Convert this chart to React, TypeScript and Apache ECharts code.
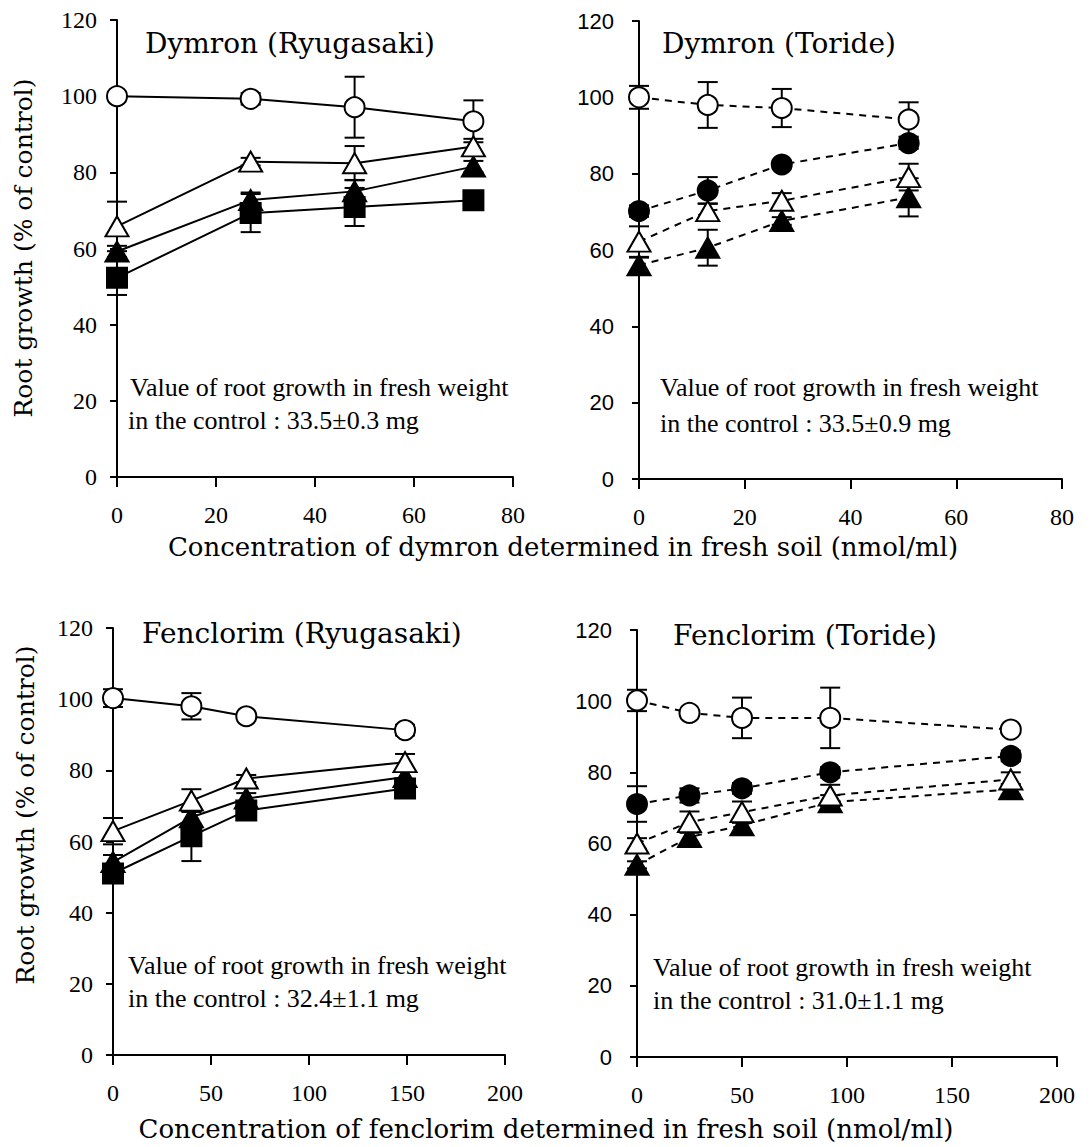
import React, { useEffect, useRef } from "react";
import * as echarts from "echarts";

// ---------- DATA ----------
// Panel 1: Dymron (Ryugasaki)
const P1_X = [0, 27, 48, 72];
const P1_OPEN_CIRCLE = [100, 99.3, 97.1, 93.4];
const P1_OPEN_CIRCLE_ERR = [0.8, 1.5, 8, 5.5];
const P1_OPEN_TRI = [65.8, 82.8, 82.4, 86.8];
const P1_OPEN_TRI_ERR = [6.5, 1, 4.5, 2];
const P1_FILL_TRI = [59.2, 72.7, 75.0, 81.5];
const P1_FILL_TRI_ERR = [1.5, 2, 3, 1.5];
const P1_FILL_SQ = [52.3, 69.3, 70.9, 72.7];
const P1_FILL_SQ_ERR = [4.5, 5, 5, 1];

// Panel 2: Dymron (Toride)
const P2_X = [0, 13, 27, 51];
const P2_OPEN_CIRCLE = [100, 98, 97.2, 94.2];
const P2_OPEN_CIRCLE_ERR = [3, 6, 5, 4.5];
const P2_FILL_CIRCLE = [70.2, 75.6, 82.4, 88];
const P2_FILL_CIRCLE_ERR = [1.5, 3.5, 1, 1.5];
const P2_OPEN_TRI = [62.2, 70.2, 72.9, 79.1];
const P2_OPEN_TRI_ERR = [4, 2, 2, 3.5];
const P2_FILL_TRI = [56, 60.6, 67.6, 73.8];
const P2_FILL_TRI_ERR = [2, 4.7, 1, 5];

// Panel 3: Fenclorim (Ryugasaki)
const P3_X = [0, 40, 68, 149];
const P3_OPEN_CIRCLE = [100.3, 98, 95.2, 91.3];
const P3_OPEN_CIRCLE_ERR = [2.5, 3.7, 0.8, 1.5];
const P3_OPEN_TRI = [62.9, 71.5, 77.7, 82.3];
const P3_OPEN_TRI_ERR = [3.7, 3.2, 1, 2.3];
const P3_FILL_TRI = [54.2, 66.8, 72.1, 78.1];
const P3_FILL_TRI_ERR = [2, 2, 1.5, 1.5];
const P3_FILL_SQ = [51, 61.5, 68.7, 74.9];
const P3_FILL_SQ_ERR = [2.5, 7, 1.5, 1.5];

// Panel 4: Fenclorim (Toride)
const P4_X = [0, 25, 50, 92, 178];
const P4_OPEN_CIRCLE = [100.2, 96.7, 95.3, 95.3, 92];
const P4_OPEN_CIRCLE_ERR = [3, 0.8, 5.7, 8.5, 1];
const P4_FILL_CIRCLE = [71.1, 73.5, 75.5, 80, 84.6];
const P4_FILL_CIRCLE_ERR = [5, 2, 1.5, 1.5, 1.5];
const P4_OPEN_TRI = [60, 66, 68.8, 73.5, 78];
const P4_OPEN_TRI_ERR = [1.5, 3, 3, 3, 2];
const P4_FILL_TRI = [54, 61.8, 65.1, 71.6, 75.2];
const P4_FILL_TRI_ERR = [1, 2, 2, 2, 1.5];

const Y_MIN = 0;
const Y_MAX = 120;
const Y_STEP = 20;
const X_MAX_DYMRON = 80;
const X_STEP_DYMRON = 20;
const X_MAX_FENCLORIM = 200;
const X_STEP_FENCLORIM = 50;

const TITLES = ["Dymron (Ryugasaki)", "Dymron (Toride)", "Fenclorim (Ryugasaki)", "Fenclorim (Toride)"];
const NOTE_LINE1 = "Value of root growth in fresh weight";
const NOTE_LINE2 = [
  "in the control : 33.5\u00b10.3 mg",
  "in the control : 33.5\u00b10.9 mg",
  "in the control : 32.4\u00b11.1 mg",
  "in the control : 31.0\u00b11.1 mg",
];
const Y_TITLE = "Root growth (% of control)";
const X_TITLE_TOP = "Concentration of dymron determined in fresh soil (nmol/ml)";
const X_TITLE_BOTTOM = "Concentration of fenclorim determined in fresh soil (nmol/ml)";

// ---------- STYLE ----------
const SERIF = '"Liberation Serif", "Times New Roman", serif';
const WIDE_SERIF = '"DejaVu Serif", serif';
const SANS = '"Liberation Sans", Arial, sans-serif';

type Marker = "openCircle" | "fillCircle" | "openTri" | "fillTri" | "fillSq";

function markerSpec(m: Marker) {
  switch (m) {
    case "openCircle":
      return { symbol: "circle", size: 20, fill: "#ffffff" };
    case "fillCircle":
      return { symbol: "circle", size: 20, fill: "#000000" };
    case "openTri":
      return { symbol: "triangle", size: [23, 20], fill: "#ffffff" };
    case "fillTri":
      return { symbol: "triangle", size: [23, 20], fill: "#000000" };
    default:
      return { symbol: "rect", size: 20, fill: "#000000" };
  }
}

function lineSeries(idx: number, xs: number[], ys: number[], m: Marker, dashed: boolean, z: number) {
  const s = markerSpec(m);
  return {
    type: "line",
    xAxisIndex: idx,
    yAxisIndex: idx,
    data: xs.map((x, i) => [x, ys[i]]),
    symbol: s.symbol,
    symbolSize: s.size,
    showAllSymbol: true,
    clip: false,
    z,
    lineStyle: { color: "#000", width: 2, type: dashed ? [7, 6] : "solid" },
    itemStyle: { color: s.fill, borderColor: "#000", borderWidth: 2 },
    emphasis: { disabled: true },
  };
}

function errSeries(idx: number, xs: number[], ys: number[], err: number[]) {
  return {
    type: "custom",
    xAxisIndex: idx,
    yAxisIndex: idx,
    z: 1,
    silent: true,
    data: xs.map((x, i) => [x, ys[i] - err[i], ys[i] + err[i]]),
    encode: { x: 0, y: [1, 2] },
    renderItem: (_p: any, api: any) => {
      const x = api.value(0);
      const top = api.coord([x, api.value(2)]);
      const bot = api.coord([x, api.value(1)]);
      const w = 10;
      const st = { stroke: "#000", lineWidth: 2 };
      return {
        type: "group",
        children: [
          { type: "line", shape: { x1: top[0], y1: top[1], x2: bot[0], y2: bot[1] }, style: st },
          { type: "line", shape: { x1: top[0] - w, y1: top[1], x2: top[0] + w, y2: top[1] }, style: st },
          { type: "line", shape: { x1: bot[0] - w, y1: bot[1], x2: bot[0] + w, y2: bot[1] }, style: st },
        ],
      };
    },
  };
}

function xAxisOf(idx: number, max: number, step: number) {
  return {
    type: "value",
    gridIndex: idx,
    min: 0,
    max,
    interval: step,
    axisLine: { show: true, onZero: false, lineStyle: { color: "#000", width: 2 } },
    axisTick: { show: true, inside: false, length: 10, lineStyle: { color: "#000", width: 2 } },
    splitLine: { show: false },
    axisLabel: { margin: 26, color: "#000", fontSize: 24, fontFamily: SERIF },
  };
}

function yAxisOf(idx: number, right: boolean) {
  return {
    type: "value",
    gridIndex: idx,
    min: Y_MIN,
    max: Y_MAX,
    interval: Y_STEP,
    axisLine: { show: true, onZero: false, lineStyle: { color: "#000", width: 2 } },
    axisTick: { show: true, inside: false, length: 7, lineStyle: { color: "#000", width: 2 } },
    splitLine: { show: false },
    axisLabel: {
      margin: right ? 25 : 20,
      color: "#000",
      fontSize: right ? 22 : 24,
      fontFamily: right ? SANS : SERIF,
    },
  };
}

function txt(text: string, x: number, y: number, font: string, extra: any = {}) {
  return {
    type: "text",
    x,
    y,
    silent: true,
    ...extra,
    style: {
      text,
      font,
      fill: "#000",
      textAlign: extra.align || "left",
      textVerticalAlign: "middle",
      align: extra.align || "left",
      verticalAlign: "middle",
    },
  };
}

export default function App() {
  const ref = useRef<HTMLDivElement>(null);

  useEffect(() => {
    if (!ref.current) return;
    const chart = echarts.init(ref.current, undefined, { renderer: "svg" });

    const grids = [
      { left: 117, top: 20, width: 396, height: 457 },
      { left: 639, top: 21, width: 423, height: 458 },
      { left: 113, top: 628, width: 392, height: 427 },
      { left: 637, top: 630, width: 420, height: 427 },
    ];

    const series: any[] = [
      // panel 1
      errSeries(0, P1_X, P1_OPEN_CIRCLE, P1_OPEN_CIRCLE_ERR),
      errSeries(0, P1_X, P1_OPEN_TRI, P1_OPEN_TRI_ERR),
      errSeries(0, P1_X, P1_FILL_TRI, P1_FILL_TRI_ERR),
      errSeries(0, P1_X, P1_FILL_SQ, P1_FILL_SQ_ERR),
      lineSeries(0, P1_X, P1_FILL_SQ, "fillSq", false, 2),
      lineSeries(0, P1_X, P1_FILL_TRI, "fillTri", false, 3),
      lineSeries(0, P1_X, P1_OPEN_TRI, "openTri", false, 4),
      lineSeries(0, P1_X, P1_OPEN_CIRCLE, "openCircle", false, 5),
      // panel 2
      errSeries(1, P2_X, P2_OPEN_CIRCLE, P2_OPEN_CIRCLE_ERR),
      errSeries(1, P2_X, P2_FILL_CIRCLE, P2_FILL_CIRCLE_ERR),
      errSeries(1, P2_X, P2_OPEN_TRI, P2_OPEN_TRI_ERR),
      errSeries(1, P2_X, P2_FILL_TRI, P2_FILL_TRI_ERR),
      lineSeries(1, P2_X, P2_FILL_TRI, "fillTri", true, 2),
      lineSeries(1, P2_X, P2_OPEN_TRI, "openTri", true, 3),
      lineSeries(1, P2_X, P2_FILL_CIRCLE, "fillCircle", true, 4),
      lineSeries(1, P2_X, P2_OPEN_CIRCLE, "openCircle", true, 5),
      // panel 3
      errSeries(2, P3_X, P3_OPEN_CIRCLE, P3_OPEN_CIRCLE_ERR),
      errSeries(2, P3_X, P3_OPEN_TRI, P3_OPEN_TRI_ERR),
      errSeries(2, P3_X, P3_FILL_TRI, P3_FILL_TRI_ERR),
      errSeries(2, P3_X, P3_FILL_SQ, P3_FILL_SQ_ERR),
      lineSeries(2, P3_X, P3_FILL_SQ, "fillSq", false, 2),
      lineSeries(2, P3_X, P3_FILL_TRI, "fillTri", false, 3),
      lineSeries(2, P3_X, P3_OPEN_TRI, "openTri", false, 4),
      lineSeries(2, P3_X, P3_OPEN_CIRCLE, "openCircle", false, 5),
      // panel 4
      errSeries(3, P4_X, P4_OPEN_CIRCLE, P4_OPEN_CIRCLE_ERR),
      errSeries(3, P4_X, P4_FILL_CIRCLE, P4_FILL_CIRCLE_ERR),
      errSeries(3, P4_X, P4_OPEN_TRI, P4_OPEN_TRI_ERR),
      errSeries(3, P4_X, P4_FILL_TRI, P4_FILL_TRI_ERR),
      lineSeries(3, P4_X, P4_FILL_TRI, "fillTri", true, 2),
      lineSeries(3, P4_X, P4_OPEN_TRI, "openTri", true, 3),
      lineSeries(3, P4_X, P4_FILL_CIRCLE, "fillCircle", true, 4),
      lineSeries(3, P4_X, P4_OPEN_CIRCLE, "openCircle", true, 5),
    ];

    const titleFont = `28px ${WIDE_SERIF}`;
    const noteFont = `26px ${SERIF}`;
    const axisTitleFont = `26px ${WIDE_SERIF}`;
    const yTitleFont = `25px ${WIDE_SERIF}`;

    const graphic: any[] = [
      txt(TITLES[0], 145, 43, titleFont),
      txt(TITLES[1], 662, 43, titleFont),
      txt(TITLES[2], 142, 633, titleFont),
      txt(TITLES[3], 673, 635, titleFont),
      txt(NOTE_LINE1, 130, 387, noteFont),
      txt(NOTE_LINE2[0], 128, 420, noteFont),
      txt(NOTE_LINE1, 660, 387, noteFont),
      txt(NOTE_LINE2[1], 660, 423, noteFont),
      txt(NOTE_LINE1, 128, 965, noteFont),
      txt(NOTE_LINE2[2], 128, 998, noteFont),
      txt(NOTE_LINE1, 653, 967, noteFont),
      txt(NOTE_LINE2[3], 653, 1000, noteFont),
      txt(X_TITLE_TOP, 563, 547, axisTitleFont, { align: "center" }),
      txt(X_TITLE_BOTTOM, 546, 1129, axisTitleFont, { align: "center" }),
      txt(Y_TITLE, 23, 248, yTitleFont, { align: "center", rotation: Math.PI / 2 }),
      txt(Y_TITLE, 25, 815, yTitleFont, { align: "center", rotation: Math.PI / 2 }),
    ];

    chart.setOption({
      animation: false,
      backgroundColor: "#ffffff",
      grid: grids,
      xAxis: [
        xAxisOf(0, X_MAX_DYMRON, X_STEP_DYMRON),
        xAxisOf(1, X_MAX_DYMRON, X_STEP_DYMRON),
        xAxisOf(2, X_MAX_FENCLORIM, X_STEP_FENCLORIM),
        xAxisOf(3, X_MAX_FENCLORIM, X_STEP_FENCLORIM),
      ],
      yAxis: [yAxisOf(0, false), yAxisOf(1, true), yAxisOf(2, false), yAxisOf(3, true)],
      series,
      graphic,
    });

    return () => chart.dispose();
  }, []);

  return (
    <div
      ref={ref}
      style={{ position: "absolute", left: 0, top: 0, width: 1092, height: 1147, background: "#fff" }}
    />
  );
}
